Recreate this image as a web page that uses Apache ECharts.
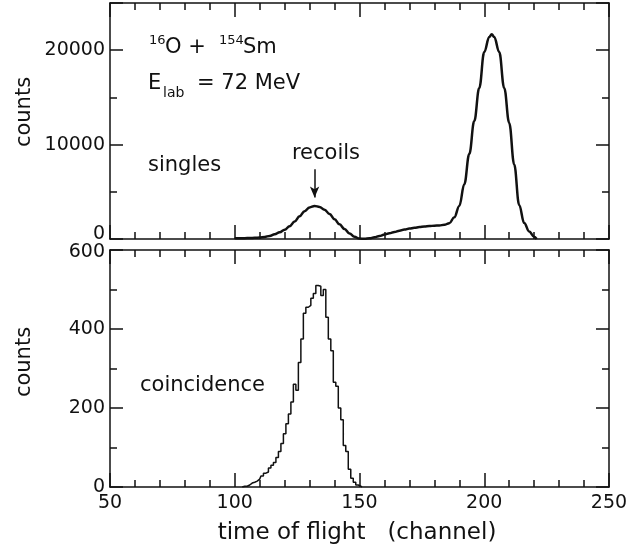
<!DOCTYPE html>
<html>
<head>
<meta charset="utf-8">
<title>time of flight</title>
<script src="https://cdn.jsdelivr.net/npm/echarts@6/dist/echarts.min.js"></script>
<style>
	html, body { margin: 0; padding: 0; background: #fff; }
	#chart { width: 641px; height: 548px; }
</style>
</head>
<body>
<div id="chart"></div>
<script>
// singles spectrum (smooth curve)
const singlesChannel = [
	100, 102, 104, 106, 108, 110, 112, 114, 116, 118, 120, 122, 124, 126, 128, 130,
	132, 134, 136, 138, 140, 142, 144, 146, 148, 150, 152, 154, 156, 158, 160, 162,
	164, 166, 168, 170, 172, 174, 176, 178, 180, 182, 184, 186, 188, 190, 192, 194,
	196, 198, 200, 202, 203, 204, 206, 208, 210, 212, 214, 216, 218, 220, 221,
];
const singlesCounts = [
	80, 80, 90, 100, 120, 150, 220, 330, 500, 720, 980, 1350, 1850, 2400, 2950, 3350,
	3500, 3400, 3100, 2650, 2100, 1550, 1050, 580, 230, 40, 20, 70, 180, 320, 470, 610,
	750, 880, 1000, 1100, 1190, 1260, 1320, 1370, 1410, 1440, 1500, 1680, 2300, 3500, 5800, 9000,
	12500, 16000, 19800, 21400, 21700, 21400, 19800, 16000, 12300, 7900, 3600, 1700, 800, 250, 0,
];

// coincidence histogram, one bin per channel
const coincChannel = [
	103, 104, 105, 106, 107, 108, 109, 110, 111, 112, 113, 114, 115, 116, 117, 118,
	119, 120, 121, 122, 123, 124, 125, 126, 127, 128, 129, 130, 131, 132, 133, 134,
	135, 136, 137, 138, 139, 140, 141, 142, 143, 144, 145, 146, 147, 148, 149, 150, 151,
];
const coincCounts = [
	0, 2, 2, 5, 10, 12, 15, 20, 28, 35, 38, 48, 55, 62, 75, 90,
	110, 135, 160, 185, 215, 260, 245, 315, 375, 440, 455, 460, 478, 490, 510, 508,
	485, 500, 430, 375, 345, 265, 255, 200, 170, 105, 90, 45, 22, 12, 5, 2, 0,
];

// axis ranges
const channelRange = [50, 250];
const singlesRange = [0, 25000];
const coincRange = [0, 600];

// arrow pointing at the recoil peak (data coords)
const recoilArrow = { channel: 132, from: 7400, to: 4400 };

const ink = "#111";
const fontFamily = "DejaVu Sans";
const tickStyle = { color: ink, width: 1.5 };

const chart = echarts.init(document.getElementById("chart"), null, { renderer: "canvas" });

function xAxis(gridIndex, position, showLabel) {
	return {
		type: "value",
		gridIndex: gridIndex,
		position: position,
		min: channelRange[0],
		max: channelRange[1],
		interval: 50,
		axisLine: { show: true, onZero: false, lineStyle: { color: ink, width: 1.5 } },
		axisTick: { show: true, inside: true, length: 14, lineStyle: tickStyle },
		minorTick: { show: true, splitNumber: 5, length: 7, lineStyle: tickStyle },
		splitLine: { show: false },
		axisLabel: {
			show: showLabel,
			margin: 7,
			color: ink,
			fontFamily: fontFamily,
			fontSize: 19,
		},
	};
}

function yAxis(gridIndex, position, range, interval, tickLen, opts) {
	return Object.assign({
		type: "value",
		gridIndex: gridIndex,
		position: position,
		min: range[0],
		max: range[1],
		interval: interval,
		axisLine: { show: true, onZero: false, lineStyle: { color: ink, width: 1.5 } },
		axisTick: { show: true, inside: true, length: tickLen, lineStyle: tickStyle },
		splitLine: { show: false },
		axisLabel: { show: false },
	}, opts || {});
}

// tick labels; the two labels where the panels meet are nudged apart
const leftLabel = (formatter) => ({
	show: true,
	margin: 5,
	color: ink,
	fontFamily: fontFamily,
	fontSize: 19,
	formatter: formatter,
	rich: {
		up: { fontFamily: fontFamily, fontSize: 19, color: ink, padding: [0, 0, 10, 0] },
		down: { fontFamily: fontFamily, fontSize: 19, color: ink, padding: [4, 0, 0, 0] },
	},
});

const textEl = (x, y, text, size, align, rotation) => ({
	type: "text",
	x: x,
	y: y,
	rotation: rotation || 0,
	style: { text: text, font: size + "px " + fontFamily, fill: ink, align: align || "left", verticalAlign: "middle" },
});

const option = {
	backgroundColor: "#fff",
	animation: false,
	// 1. two stacked panels
	grid: [
		{ left: 110, right: 32, top: 3, height: 236 },
		{ left: 110, right: 32, top: 250, height: 237 },
	],
	// 2. x axes (bottom + mirrored top for each panel)
	xAxis: [
		xAxis(0, "bottom", false),
		xAxis(0, "top", false),
		xAxis(1, "bottom", true),
		xAxis(1, "top", false),
	],
	// 3. y axes: short ticks every 5000 and long ticks every 10000 on top panel
	yAxis: [
		yAxis(0, "left", singlesRange, 5000, 7, {
			axisLabel: leftLabel((v) => {
				if (v === 0) return "{up|0}";
				return v % 10000 === 0 && v < singlesRange[1] ? String(v) : "";
			}),
		}),
		yAxis(0, "left", singlesRange, 10000, 13, { axisLine: { show: false } }),
		yAxis(0, "right", singlesRange, 5000, 7),
		yAxis(0, "right", singlesRange, 10000, 13, { axisLine: { show: false } }),
		yAxis(1, "left", coincRange, 200, 13, {
			minorTick: { show: true, splitNumber: 2, length: 7, lineStyle: tickStyle },
			axisLabel: leftLabel((v) => (v === coincRange[1] ? "{down|" + v + "}" : String(v))),
		}),
		yAxis(1, "right", coincRange, 200, 13, {
			minorTick: { show: true, splitNumber: 2, length: 7, lineStyle: tickStyle },
		}),
	],
	// 4. data series
	series: [
		{
			name: "singles",
			type: "line",
			xAxisIndex: 0,
			yAxisIndex: 0,
			data: singlesChannel.map((c, i) => [c, singlesCounts[i]]),
			smooth: 0.4,
			smoothMonotone: "x",
			showSymbol: false,
			lineStyle: { color: ink, width: 2.5 },
			markLine: {
				silent: true,
				symbol: ["none", "arrow"],
				symbolSize: [7, 11],
				lineStyle: { color: ink, width: 1.5, type: "solid" },
				label: { show: false },
				data: [[
					{ coord: [recoilArrow.channel, recoilArrow.from] },
					{ coord: [recoilArrow.channel, recoilArrow.to] },
				]],
			},
		},
		{
			name: "coincidence",
			type: "line",
			xAxisIndex: 2,
			yAxisIndex: 4,
			data: coincChannel.map((c, i) => [c, coincCounts[i]]),
			step: "middle",
			showSymbol: false,
			lineStyle: { color: ink, width: 1.5 },
		},
	],
	// 5. annotations and axis titles
	graphic: [
		textEl(25, 112, "counts", 21, "center", Math.PI / 2),
		textEl(25, 362, "counts", 21, "center", Math.PI / 2),
		textEl(357, 533, "time of flight   (channel)", 23, "center"),
		textEl(149, 41, "16", 13),
		textEl(165, 48, "O +", 21),
		textEl(219, 41, "154", 13),
		textEl(243, 48, "Sm", 21),
		textEl(148, 84, "E", 21),
		textEl(163, 93, "lab", 14),
		textEl(197, 84, "= 72 MeV", 21),
		textEl(148, 166, "singles", 21),
		textEl(326, 154, "recoils", 21, "center"),
		textEl(140, 386, "coincidence", 21),
	],
};

chart.setOption(option);
</script>
</body>
</html>
